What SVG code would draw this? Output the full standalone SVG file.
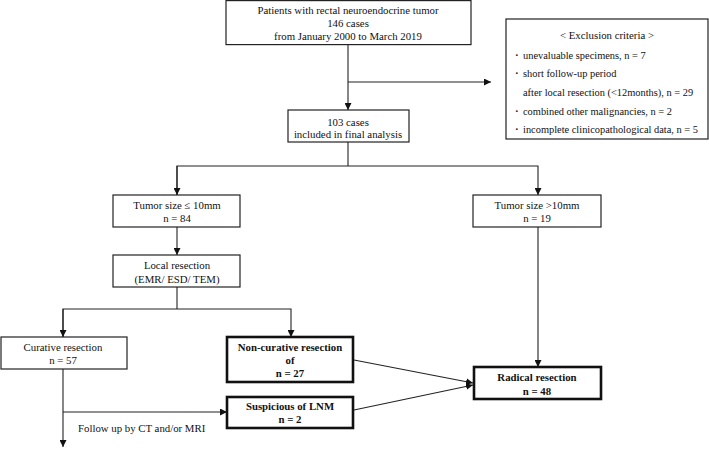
<svg xmlns="http://www.w3.org/2000/svg" width="709" height="452" viewBox="0 0 709 452">
<defs>
<marker id="ah" viewBox="0 0 10 10" refX="10" refY="5" markerWidth="7" markerHeight="7" markerUnits="userSpaceOnUse" orient="auto">
<path d="M0,0 L10,5 L0,10 z" fill="#111"/>
</marker>
<style>
.box{fill:#fff;stroke:#222;stroke-width:1.2}
.tbox{fill:#fff;stroke:#111;stroke-width:2.6}
.t{font-family:"Liberation Serif","Times New Roman",serif;font-size:10.8px;fill:#111;text-anchor:middle}
.tl{font-family:"Liberation Serif","Times New Roman",serif;font-size:10.8px;fill:#111}
.ex{font-size:10.4px}
.dot{font-weight:bold}
.b{font-weight:bold}
.c{fill:none;stroke:#222;stroke-width:1.1}
</style>
</defs>
<rect width="709" height="452" fill="#fff"/>
<g id="connectors">
<line class="c" x1="348" y1="45" x2="348" y2="110" marker-end="url(#ah)"/>
<line class="c" x1="348" y1="82" x2="491" y2="82" marker-end="url(#ah)"/>
<line class="c" x1="348" y1="142" x2="348" y2="166"/>
<polyline class="c" points="177,195 177,166 538,166 538,195" marker-end="url(#ah)"/>
<line class="c" x1="177" y1="166" x2="177" y2="195" marker-end="url(#ah)"/>
<line class="c" x1="177" y1="227" x2="177" y2="255" marker-end="url(#ah)"/>
<line class="c" x1="177" y1="287" x2="177" y2="309"/>
<polyline class="c" points="63,337 63,309 291,309 291,337" marker-end="url(#ah)"/>
<line class="c" x1="63" y1="309" x2="63" y2="337" marker-end="url(#ah)"/>
<line class="c" x1="63" y1="369" x2="63" y2="447" marker-end="url(#ah)"/>
<line class="c" x1="63" y1="412" x2="227" y2="412" marker-end="url(#ah)"/>
<line class="c" x1="538" y1="227" x2="538" y2="367" marker-end="url(#ah)"/>
<line class="c" x1="354" y1="360" x2="473" y2="383" marker-end="url(#ah)"/>
<line class="c" x1="354" y1="410" x2="473" y2="385" marker-end="url(#ah)"/>
<text class="tl" x="78" y="432">Follow up by CT and/or MRI</text>
</g>
<g id="patients">
<rect class="box" x="226" y="0.6" width="245" height="44"/>
<text class="t" x="348" y="14">Patients with rectal neuroendocrine tumor</text>
<text class="t" x="348" y="27">146 cases</text>
<text class="t" x="348" y="40">from January 2000 to March 2019</text>
</g>
<g id="exclusion">
<rect class="box" x="506" y="19" width="202" height="120"/>
<text class="t" x="607" y="39">&lt; Exclusion criteria &gt;</text>
<text class="tl dot" x="515" y="59">·</text>
<text class="tl ex" x="523" y="59">unevaluable specimens, n = 7</text>
<text class="tl dot" x="515" y="77">·</text>
<text class="tl ex" x="523" y="77">short follow-up period</text>
<text class="tl ex" x="523" y="96">after local resection (&lt;12months), n = 29</text>
<text class="tl dot" x="515" y="115">·</text>
<text class="tl ex" x="523" y="115">combined other malignancies, n = 2</text>
<text class="tl dot" x="515" y="133">·</text>
<text class="tl ex" x="523" y="133">incomplete clinicopathological data, n = 5</text>
</g>
<g id="included">
<rect class="box" x="288" y="110" width="121" height="32"/>
<text class="t" x="348" y="126">103 cases</text>
<text class="t" x="348" y="138">included in final analysis</text>
</g>
<g id="small">
<rect class="box" x="113" y="195" width="127" height="32"/>
<text class="t" x="177" y="209">Tumor size ≤ 10mm</text>
<text class="t" x="177" y="222">n = 84</text>
</g>
<g id="large">
<rect class="box" x="473" y="195" width="128" height="32"/>
<text class="t" x="537" y="209">Tumor size &gt;10mm</text>
<text class="t" x="537" y="222">n = 19</text>
</g>
<g id="local">
<rect class="box" x="113" y="255" width="127" height="32"/>
<text class="t" x="177" y="269">Local resection</text>
<text class="t" x="177" y="283">(EMR/ ESD/ TEM)</text>
</g>
<g id="curative">
<rect class="box" x="1" y="337" width="126" height="32"/>
<text class="t" x="63" y="351">Curative resection</text>
<text class="t" x="63" y="364">n = 57</text>
</g>
<g id="noncurative">
<rect class="tbox" x="227" y="337" width="126" height="45"/>
<text class="t b" x="290" y="351">Non-curative resection</text>
<text class="t b" x="290" y="364">of</text>
<text class="t b" x="290" y="377">n = 27</text>
</g>
<g id="suspicious">
<rect class="tbox" x="227" y="397" width="126" height="31"/>
<text class="t b" x="290" y="410">Suspicious of LNM</text>
<text class="t b" x="290" y="423">n = 2</text>
</g>
<g id="radical">
<rect class="tbox" x="474" y="367" width="127" height="32"/>
<text class="t b" x="537" y="381">Radical resection</text>
<text class="t b" x="537" y="395">n = 48</text>
</g>
</svg>
